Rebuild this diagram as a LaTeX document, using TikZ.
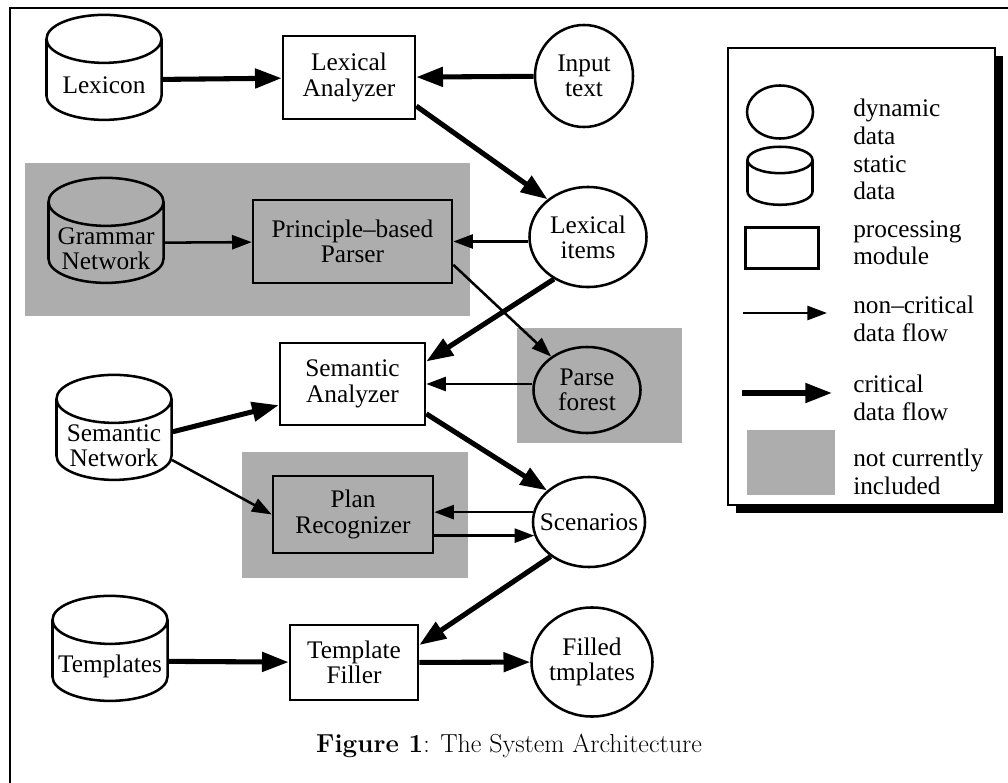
\documentclass[tikz,border=0pt]{standalone}
\usepackage{fontspec}
\newfontfamily\timesfont{Liberation Serif}
\usetikzlibrary{positioning, arrows.meta, shapes.geometric, shadows}
\definecolor{halftone}{gray}{0.68}
\newcommand{\diagfont}{\timesfont\fontsize{18}{18}\selectfont}

\begin{document}
\begin{tikzpicture}[
  x=0.025cm, y=-0.025cm,
  proc/.style={rectangle, draw, line width=1.8pt, fill=white,
               font=\diagfont, align=center},
  datum/.style={ellipse, draw, line width=1.8pt, fill=white, font=\diagfont,
                align=center, inner xsep=-20pt, inner ysep=0pt},
  store/.style={cylinder, shape border rotate=90, aspect=0.6, draw,
                line width=1.8pt, fill=white, inner sep=0pt, text width=2cm,
                minimum width=2.875cm, minimum height=2.625cm,
                label={[font=\diagfont, align=center, yshift=-4pt]center:#1}},
  store/.default={},
  notyet/.style={fill=halftone},
  crit/.style={-{Triangle[length=19pt, width=13.5pt]}, line width=3.6pt},
  flow/.style={-{Triangle[length=14pt, width=10pt]}, line width=1.8pt},
  legtext/.style={font=\timesfont\fontsize{18}{19.5}\selectfont,
                  align=left, anchor=west, inner sep=0pt}
]
\useasboundingbox (0,0) rectangle (1008,783);
\draw[line width=1.4pt] (1008,8) -- (10,8) -- (10,783);

% parts not currently included
\fill[halftone] (25,163) rectangle (470,316);
\fill[halftone] (517,328) rectangle (682,443);
\fill[halftone] (242,452) rectangle (468,578);

% static data
\node[store=Lexicon] (lexicon) at (104,80) {};
\node[store={Grammar\\Network}, notyet] (grammar) at (106,243) {};
\node[store={Semantic\\Network}] (semnet) at (114,440) {};
\node[store=Templates] (templates) at (110,661) {};

% processing modules
\node[proc, minimum width=3.3cm, minimum height=2.075cm] (lexan) at (349,77.5) {Lexical\\Analyzer};
\node[proc, notyet, minimum width=4.975cm, minimum height=2.075cm] (parser) at (352.5,241.5) {Principle\textendash based\\Parser};
\node[proc, minimum width=3.625cm, minimum height=2.05cm] (seman) at (352.5,384) {Semantic\\Analyzer};
\node[proc, notyet, minimum width=4cm, minimum height=1.925cm] (plan) at (353,514.5) {Plan\\Recognizer};
\node[proc, minimum width=3.2cm, minimum height=1.875cm] (filler) at (354,662.5) {Template\\Filler};

% dynamic data
\node[datum, minimum width=2.45cm, minimum height=2.55cm] (input) at (584,76) {Input\\text};
\node[datum, minimum width=2.925cm, minimum height=2.5cm] (items) at (588,237) {Lexical\\items};
\node[datum, notyet, minimum width=2.675cm, minimum height=2.15cm] (forest) at (587,390) {Parse\\forest};
\node[datum, minimum width=2.8cm, minimum height=2.25cm] (scen) at (589,522) {Scenarios};
\node[datum, minimum width=3.025cm, minimum height=2.725cm] (filled) at (592,662) {Filled\\tmplates};

% data flow
\draw[crit] (lexicon) -- (lexan);
\draw[crit] (input) -- (lexan);
\draw[crit] (lexan.-23) -- (items.137);
\draw[flow] (grammar) -- (parser);
\draw[flow] (items.west |- parser) -- (parser);
\draw[flow] (parser.-13) -- (forest.137);
\draw[crit] (items.231) -- (seman.17);
\draw[flow] (forest.west |- seman) -- (seman);
\draw[crit] (semnet.8) -- (seman.196);
\draw[flow] (semnet.-19) -- (plan.west);
\draw[crit] (seman.-22) -- (scen.143);
\draw[flow] (scen.170) -- (scen.170 -| plan.east);
\draw[flow] (plan.east |- scen.194) -- (scen.194);
\draw[crit] (scen.222) -- (filler.15);
\draw[crit] (templates) -- (filler);
\draw[crit] (filler) -- (filled);

% legend
\draw[line width=1.5pt, fill=white,
      drop shadow={shadow xshift=5.7pt, shadow yshift=-5.7pt, opacity=1, fill=black}]
  (728,48) rectangle (995,505);
\node[datum, minimum width=1.65cm, minimum height=1.325cm] (lgdyn) at (780,112) {};
\node[store, text width=1.1cm, minimum width=1.625cm, minimum height=1.45cm] (lgstat) at (780,183) {};
\node[proc, minimum width=1.825cm, minimum height=1.025cm] (lgproc) at (782,248) {};
\coordinate (lgthinA) at (743,313);
\coordinate (lgthinB) at (827,313);
\coordinate (lgthickA) at (742,393);
\coordinate (lgthickB) at (832,393);
\draw[flow] (lgthinA) -- (lgthinB);
\draw[crit] (lgthickA) -- (lgthickB);
\fill[halftone] (747,430) rectangle (835,495);
\node[legtext] (tdyn) at (853,122) {dynamic\\data};
\node[legtext] (tstat) at (853,178) {static\\data};
\node[legtext] (tproc) at (853,243) {processing\\module};
\node[legtext] (tthin) at (853,319) {non\textendash critical\\data flow};
\node[legtext] (tthick) at (853,398) {critical\\data flow};
\node[legtext] (tshade) at (853,472) {not currently\\included};

\node[font=\fontsize{18.5}{22}\selectfont] (caption) at (509,746) {\textbf{Figure 1}: The System Architecture};
\end{tikzpicture}
\end{document}
